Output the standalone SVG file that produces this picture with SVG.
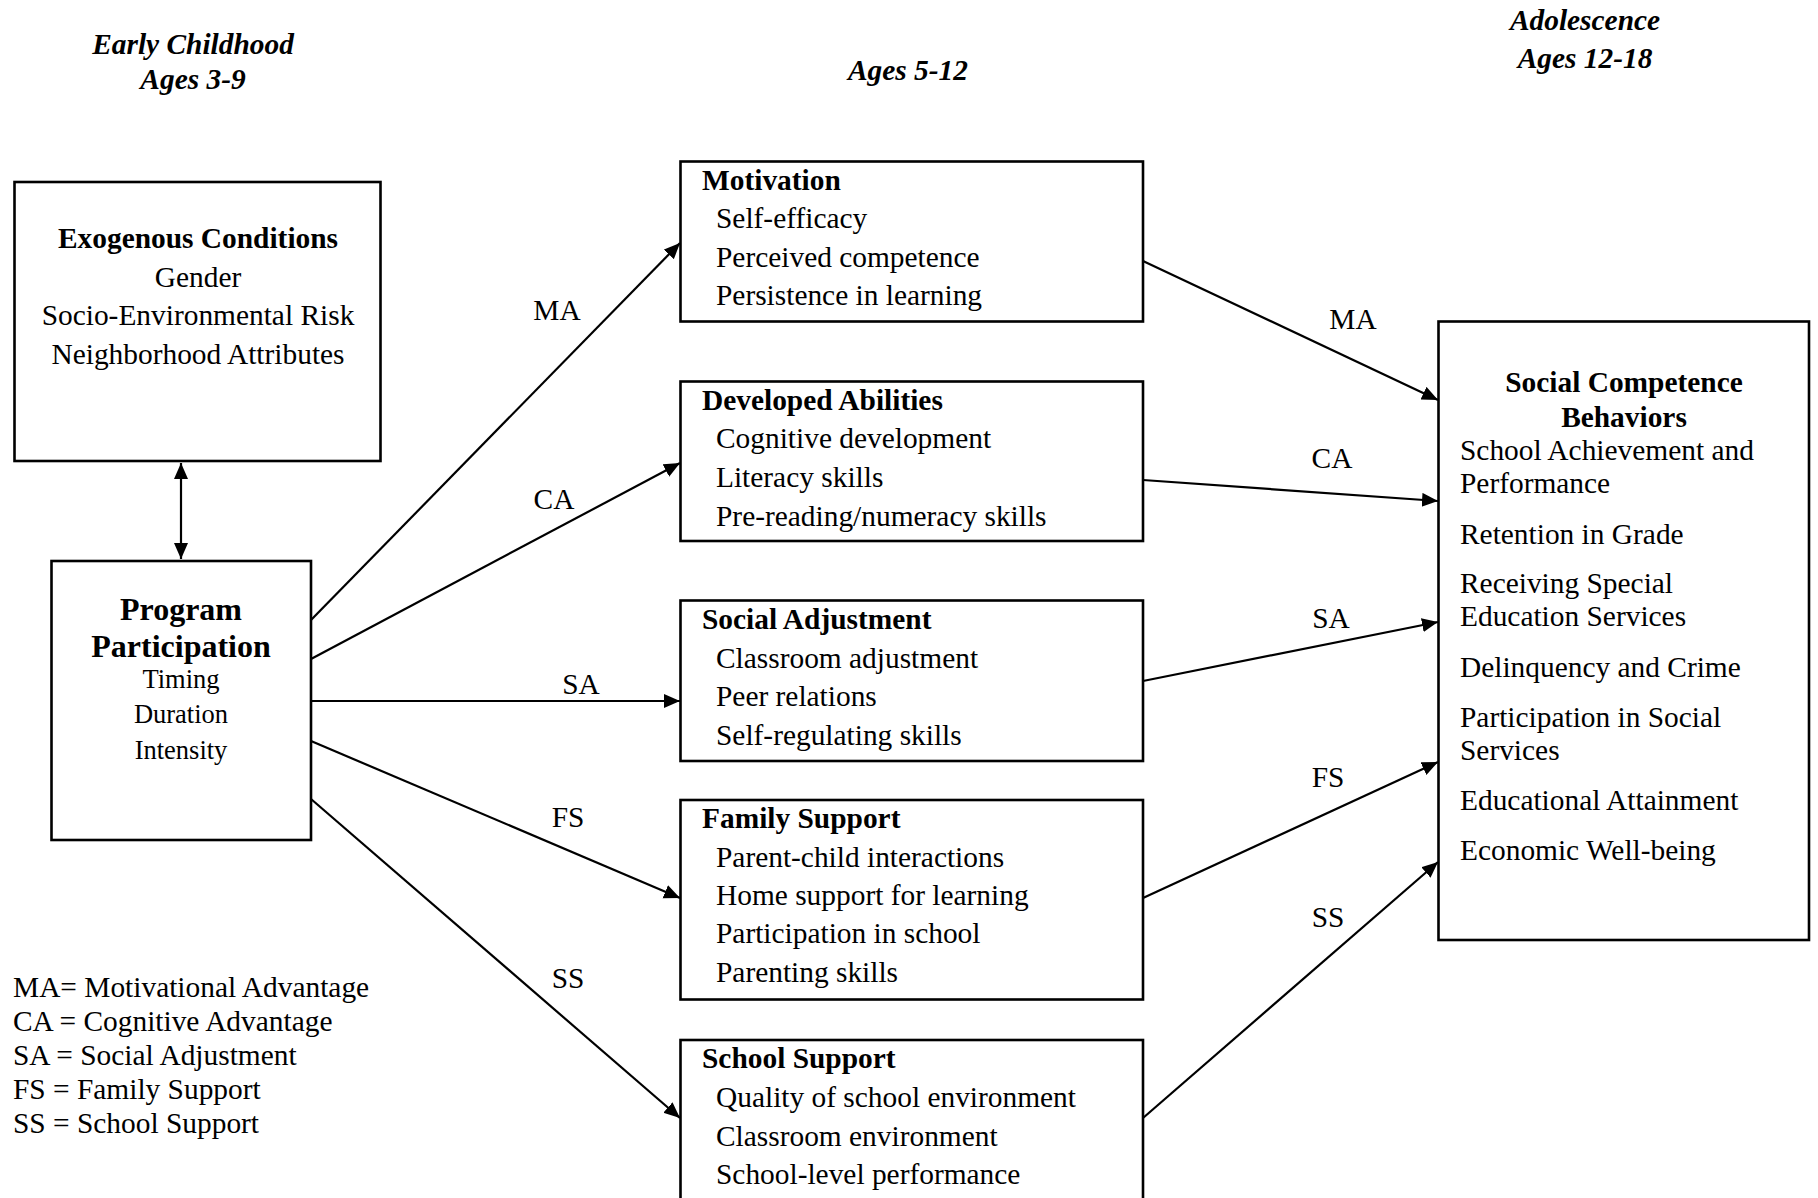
<svg xmlns="http://www.w3.org/2000/svg" width="1818" height="1198" viewBox="0 0 1818 1198">
<defs>
<style>
text{font-family:"Liberation Serif","Times New Roman",serif;font-size:29.4px;fill:#000}
.h{font-weight:bold;font-style:italic}
.b{font-weight:bold}
.c{text-anchor:middle}
.box{fill:#fff;stroke:#000;stroke-width:2.6}
.edge{fill:none;stroke:#000;stroke-width:2.2}
.lbl{text-anchor:middle}
</style>
<marker id="ah" markerUnits="userSpaceOnUse" markerWidth="17" markerHeight="15" refX="16" refY="7" orient="auto-start-reverse">
<path d="M0,0 L16,7 L0,14 z" fill="#000"/>
</marker>
</defs>
<rect width="1818" height="1198" fill="#fff"/>

<g id="headers">
<text class="h c" x="193" y="54">Early Childhood</text>
<text class="h c" x="193" y="89">Ages 3-9</text>
<text class="h c" x="908" y="80">Ages 5-12</text>
<text class="h c" x="1585" y="30">Adolescence</text>
<text class="h c" x="1585" y="68">Ages 12-18</text>
</g>

<g id="connectors">
<line class="edge" x1="181" y1="463" x2="181" y2="559" marker-start="url(#ah)" marker-end="url(#ah)"/>
<line class="edge" x1="311" y1="620" x2="680" y2="243" marker-end="url(#ah)"/>
<line class="edge" x1="311" y1="659" x2="680" y2="463" marker-end="url(#ah)"/>
<line class="edge" x1="311" y1="701" x2="680" y2="701" marker-end="url(#ah)"/>
<line class="edge" x1="311" y1="741" x2="680" y2="898" marker-end="url(#ah)"/>
<line class="edge" x1="311" y1="799" x2="680" y2="1118" marker-end="url(#ah)"/>
<line class="edge" x1="1143" y1="261" x2="1438" y2="400" marker-end="url(#ah)"/>
<line class="edge" x1="1143" y1="480" x2="1438" y2="501" marker-end="url(#ah)"/>
<line class="edge" x1="1143" y1="681" x2="1438" y2="622" marker-end="url(#ah)"/>
<line class="edge" x1="1143" y1="898" x2="1438" y2="762" marker-end="url(#ah)"/>
<line class="edge" x1="1143" y1="1118" x2="1438" y2="862" marker-end="url(#ah)"/>
<text class="lbl" x="557" y="320">MA</text>
<text class="lbl" x="554" y="509">CA</text>
<text class="lbl" x="581" y="694">SA</text>
<text class="lbl" x="568" y="827">FS</text>
<text class="lbl" x="568" y="988">SS</text>
<text class="lbl" x="1353" y="329">MA</text>
<text class="lbl" x="1332" y="468">CA</text>
<text class="lbl" x="1331" y="628">SA</text>
<text class="lbl" x="1328" y="787">FS</text>
<text class="lbl" x="1328" y="927">SS</text>
</g>

<g id="exogenous">
<rect class="box" x="14.5" y="182" width="366" height="279"/>
<text class="b c" x="198" y="248">Exogenous Conditions</text>
<text class="c" x="198" y="287">Gender</text>
<text class="c" x="198" y="325">Socio-Environmental Risk</text>
<text class="c" x="198" y="364">Neighborhood Attributes</text>
</g>

<g id="program">
<rect class="box" x="51.5" y="561" width="259.5" height="279"/>
<text class="b c" x="181" y="620" style="font-size:32px">Program</text>
<text class="b c" x="181" y="657" style="font-size:32px">Participation</text>
<text class="c" x="181" y="688" style="font-size:26.5px">Timing</text>
<text class="c" x="181" y="723" style="font-size:26.5px">Duration</text>
<text class="c" x="181" y="759" style="font-size:26.5px">Intensity</text>
</g>

<g id="motivation">
<rect class="box" x="680.5" y="161.5" width="462.5" height="160"/>
<text class="b" x="702" y="190">Motivation</text>
<text x="716" y="228">Self-efficacy</text>
<text x="716" y="267">Perceived competence</text>
<text x="716" y="305">Persistence in learning</text>
</g>

<g id="abilities">
<rect class="box" x="680.5" y="381.5" width="462.5" height="159.5"/>
<text class="b" x="702" y="410">Developed Abilities</text>
<text x="716" y="448">Cognitive development</text>
<text x="716" y="487">Literacy skills</text>
<text x="716" y="526">Pre-reading/numeracy skills</text>
</g>

<g id="social-adjustment">
<rect class="box" x="680.5" y="600.5" width="462.5" height="160.5"/>
<text class="b" x="702" y="629">Social Adjustment</text>
<text x="716" y="668">Classroom adjustment</text>
<text x="716" y="706">Peer relations</text>
<text x="716" y="745">Self-regulating skills</text>
</g>

<g id="family-support">
<rect class="box" x="680.5" y="800" width="462.5" height="199.5"/>
<text class="b" x="702" y="828">Family Support</text>
<text x="716" y="867">Parent-child interactions</text>
<text x="716" y="905">Home support for learning</text>
<text x="716" y="943">Participation in school</text>
<text x="716" y="982">Parenting skills</text>
</g>

<g id="school-support">
<rect class="box" x="680.5" y="1040" width="462.5" height="180"/>
<text class="b" x="702" y="1068">School Support</text>
<text x="716" y="1107">Quality of school environment</text>
<text x="716" y="1146">Classroom environment</text>
<text x="716" y="1184">School-level performance</text>
</g>

<g id="social-competence">
<rect class="box" x="1438.5" y="321.5" width="370.5" height="618.5"/>
<text class="b c" x="1624" y="392">Social Competence</text>
<text class="b c" x="1624" y="427">Behaviors</text>
<text x="1460" y="460">School Achievement and</text>
<text x="1460" y="493">Performance</text>
<text x="1460" y="544">Retention in Grade</text>
<text x="1460" y="593">Receiving Special</text>
<text x="1460" y="626">Education Services</text>
<text x="1460" y="677">Delinquency and Crime</text>
<text x="1460" y="727">Participation in Social</text>
<text x="1460" y="760">Services</text>
<text x="1460" y="810">Educational Attainment</text>
<text x="1460" y="860">Economic Well-being</text>
</g>

<g id="legend">
<text x="13" y="997">MA= Motivational Advantage</text>
<text x="13" y="1031">CA = Cognitive Advantage</text>
<text x="13" y="1065">SA = Social Adjustment</text>
<text x="13" y="1099">FS = Family Support</text>
<text x="13" y="1133">SS = School Support</text>
</g>
</svg>
